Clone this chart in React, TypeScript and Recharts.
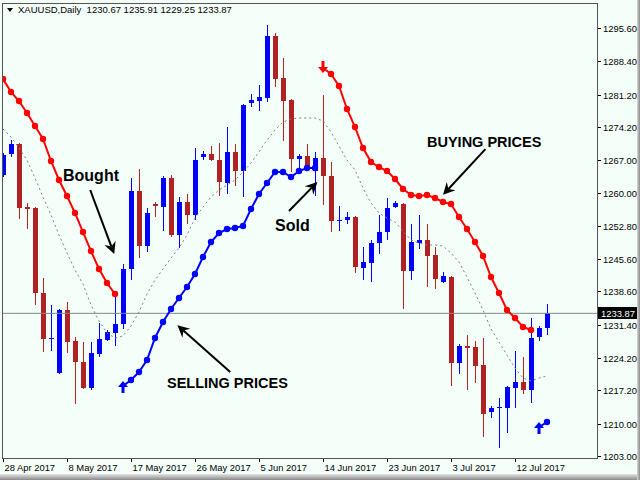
import React from 'react';
import { ComposedChart, Bar, Line, XAxis, YAxis, ReferenceLine, ReferenceDot } from 'recharts';

const BG = '#F5FFFA';
const BULL = '#0000FF';
const BEAR = '#B22222';
const BUY_COLOR = '#FF0000';
const SELL_COLOR = '#0000FF';
const FONT = '"Liberation Sans", Arial, sans-serif';
const N = null;

// x axis: bar index -> date label
const tickIdx = [0, 8, 16, 24, 32, 40, 48, 56, 64];
const tickLabels = [
  '28 Apr 2017', '8 May 2017', '17 May 2017', '26 May 2017', '5 Jun 2017',
  '14 Jun 2017', '23 Jun 2017', '3 Jul 2017', '12 Jul 2017',
];
const priceTicks = [
  1295.6, 1288.4, 1281.2, 1274.2, 1267.0, 1260.0, 1252.8,
  1245.6, 1238.6, 1231.4, 1224.2, 1217.2, 1210.0, 1203.0,
];

// XAUUSD daily candles
const opens = [
  1263.80, 1268.34, 1270.50, 1256.87, 1256.66, 1238.27, 1228.40, 1220.96, 1234.59, 1227.88,
  1223.34, 1217.71, 1225.07, 1228.10, 1229.61, 1231.56, 1243.46, 1260.34, 1248.44, 1257.52,
  1256.87, 1263.15, 1250.82, 1257.96, 1255.14, 1267.69, 1268.34, 1267.04, 1262.07, 1268.77,
  1264.66, 1279.38, 1279.81, 1280.46, 1293.87, 1284.78, 1280.02, 1267.26, 1267.91, 1264.66,
  1267.48, 1263.58, 1253.84, 1254.06, 1254.71, 1243.67, 1244.75, 1249.08, 1251.46, 1256.87,
  1257.52, 1243.03, 1249.08, 1249.73, 1246.49, 1240.65, 1241.73, 1223.12, 1226.80, 1226.58,
  1222.69, 1212.52, 1213.39, 1213.39, 1217.71, 1219.01, 1217.28, 1228.75, 1230.67,
];
const highs = [
  1268.56, 1271.37, 1270.72, 1257.74, 1256.87, 1241.51, 1235.67, 1234.80, 1236.32, 1228.75,
  1227.67, 1227.67, 1231.78, 1230.26, 1237.40, 1244.54, 1263.15, 1265.10, 1256.66, 1257.96,
  1263.58, 1263.80, 1259.04, 1259.69, 1269.64, 1268.99, 1270.07, 1270.72, 1274.18, 1270.50,
  1279.16, 1281.32, 1283.27, 1296.25, 1294.52, 1289.11, 1280.24, 1268.34, 1270.50, 1268.77,
  1281.11, 1266.61, 1257.09, 1255.79, 1254.90, 1248.22, 1249.73, 1255.14, 1258.82, 1258.17,
  1257.70, 1253.20, 1255.14, 1253.20, 1248.22, 1242.81, 1241.94, 1227.23, 1229.18, 1227.88,
  1228.53, 1213.82, 1215.55, 1218.15, 1225.72, 1224.42, 1232.86, 1231.13, 1235.91,
];
const lows = [
  1263.36, 1267.69, 1254.28, 1252.11, 1235.67, 1225.50, 1225.72, 1220.74, 1225.29, 1214.25,
  1217.50, 1217.28, 1224.42, 1227.88, 1226.80, 1230.48, 1241.08, 1245.84, 1247.14, 1254.71,
  1251.68, 1250.38, 1248.00, 1253.20, 1254.06, 1267.04, 1266.80, 1259.25, 1259.69, 1261.42,
  1259.04, 1278.51, 1277.64, 1279.59, 1282.84, 1271.15, 1264.45, 1265.10, 1264.66, 1259.25,
  1257.31, 1251.46, 1251.68, 1253.20, 1242.59, 1241.08, 1240.65, 1246.70, 1249.73, 1256.66,
  1234.80, 1241.08, 1247.79, 1239.56, 1239.13, 1240.50, 1218.15, 1220.74, 1217.28, 1218.79,
  1207.11, 1211.22, 1204.73, 1207.98, 1213.39, 1216.41, 1214.47, 1227.88, 1229.25,
];
const closes = [
  1268.12, 1270.50, 1256.66, 1256.44, 1238.27, 1228.31, 1228.53, 1234.59, 1227.67, 1223.34,
  1217.71, 1225.29, 1228.31, 1229.83, 1231.56, 1243.46, 1260.34, 1248.44, 1255.58, 1257.09,
  1263.15, 1250.82, 1257.96, 1255.14, 1267.04, 1268.34, 1267.04, 1262.28, 1268.77, 1264.66,
  1278.94, 1280.02, 1280.67, 1293.87, 1284.57, 1279.81, 1267.26, 1267.91, 1265.10, 1267.48,
  1263.58, 1253.84, 1254.06, 1254.71, 1243.89, 1244.97, 1249.08, 1251.46, 1256.66, 1257.74,
  1243.03, 1249.30, 1249.73, 1246.27, 1241.30, 1241.94, 1223.12, 1226.80, 1226.37, 1222.47,
  1212.09, 1213.39, 1213.60, 1217.93, 1219.01, 1217.28, 1228.53, 1230.69, 1233.87,
];

// indicator lines
const buying = [
  1284.57, 1281.76, 1279.81, 1277.21, 1274.40, 1271.59, 1266.83, 1262.72, 1259.25, 1255.58,
  1251.46, 1247.35, 1243.46, 1240.43, 1238.05, N, N, N, N, N,
  N, N, N, N, N, N, N, N, N, N,
  N, N, N, N, N, N, N, N, N, N,
  1286.95, 1285.65, 1283.05, 1278.08, 1274.18, 1269.64, 1266.61, 1265.53, 1264.66, 1262.93,
  1260.77, 1259.47, 1259.25, 1259.47, 1258.82, 1257.96, 1257.52, 1254.71, 1252.11, 1249.30,
  1246.27, 1241.73, 1238.27, 1234.59, 1232.86, 1230.91, 1230.26, N, N,
];
const selling = [
  N, N, N, N, N, N, N, N, N, N,
  N, N, N, N, N, 1218.15, 1219.44, 1221.17, 1223.77, 1228.53,
  1231.99, 1234.80, 1237.19, 1239.56, 1242.38, 1246.06, 1249.30, 1251.25, 1252.11, 1252.33,
  1252.76, 1256.44, 1259.69, 1262.07, 1264.45, 1264.45, 1263.36, 1264.66, 1265.31, 1265.31,
  N, N, N, N, N, N, N, N, N, N,
  N, N, N, N, N, N, N, N, N, N,
  N, N, N, N, N, N, N, 1209.27, 1210.36,
];
const movingAvg = [
  1273.75, 1272.02, 1269.64, 1267.04, 1263.15, 1259.04, 1255.14, 1250.82, 1246.92, 1243.24,
  1240.21, 1235.67, 1232.21, 1229.61, 1228.53, 1228.96, 1231.13, 1234.16, 1238.05, 1241.08,
  1243.46, 1245.84, 1248.00, 1250.82, 1254.49, 1256.87, 1259.04, 1260.55, 1261.63, 1262.72,
  1264.45, 1266.39, 1268.77, 1271.37, 1273.53, 1275.26, 1275.91, 1276.13, 1276.13, 1276.13,
  1275.48, 1273.10, 1270.07, 1267.04, 1264.88, 1260.98, 1257.74, 1255.58, 1254.49, 1253.63,
  1251.68, 1249.73, 1249.08, 1248.65, 1248.65, 1248.44, 1246.92, 1244.97, 1241.73, 1238.27,
  1234.59, 1230.48, 1227.67, 1224.85, 1222.04, 1219.88, 1219.23, 1219.88, 1220.31,
];
const buyArrows = [40];
const sellArrows = [15, 67];

// text callouts, anchored in (bar index, price)
const callouts = [
  { text: 'Bought', size: 16, at: [7.5, 1262.5], from: [10.9, 1260.55], to: [13.9, 1246.7] },
  { text: 'Sold', size: 16, at: [34, 1251.68], from: [35.75, 1256.0], to: [39.3, 1262.3] },
  { text: 'BUYING PRICES', size: 14.5, at: [53, 1269.86], from: [60.3, 1269.4], to: [55.0, 1259.5] },
  { text: 'SELLING PRICES', size: 14.5, at: [20.5, 1217.71], from: [28.4, 1221.2], to: [21.8, 1231.3] },
];

const lastClose = closes[closes.length - 1];

const rows = opens.map((o, i) => ({
  i,
  o,
  h: highs[i],
  l: lows[i],
  c: closes[i],
  range: [lows[i], highs[i]],
  buy: buying[i],
  sell: selling[i],
  ma: movingAvg[i],
}));

function Candle(props: any) {
  const { x, y, width, height, payload } = props;
  if (!payload || y == null || height == null) return null;
  const top = Math.min(y, y + height);
  const span = Math.abs(height);
  const { o, h, l, c } = payload;
  const k = span / (h - l);
  const yo = top + (h - o) * k;
  const yc = top + (h - c) * k;
  const col = c >= o ? BULL : BEAR;
  const cx = Math.round(x + width / 2);
  const bTop = Math.round(Math.min(yo, yc));
  const bBot = Math.round(Math.max(yo, yc));
  return (
    <g>
      <rect x={cx} y={Math.round(top)} width={1} height={Math.max(Math.round(span), 1)} fill={col} />
      <rect x={cx - 2} y={bTop} width={5} height={Math.max(bBot - bTop, 1)} fill={col} />
    </g>
  );
}

function arrowGlyph(cx: number, cy: number, up: boolean, color: string, key: string) {
  const d = up ? -1 : 1;
  const pts = [
    [cx, cy + 5 * d],
    [cx + 5, cy - 1 * d],
    [cx + 1.5, cy - 1 * d],
    [cx + 1.5, cy - 7 * d],
    [cx - 1.5, cy - 7 * d],
    [cx - 1.5, cy - 1 * d],
    [cx - 5, cy - 1 * d],
  ];
  return <polygon key={key} points={pts.map((p) => p.join(',')).join(' ')} fill={color} />;
}

const makeDot = (color: string, starts: number[], up: boolean) => (p: any) => {
  const key = `d${p.index}`;
  if (p.cy == null || p.value == null) return <g key={key} />;
  if (starts.includes(p.payload.i)) return arrowGlyph(p.cx, p.cy, up, color, key);
  return <circle key={key} cx={p.cx} cy={p.cy} r={3.2} fill={color} />;
};

function Pointer(p: any) {
  const { x1, y1, x2, y2 } = p;
  const a = Math.atan2(y2 - y1, x2 - x1);
  const ux = Math.cos(a);
  const uy = Math.sin(a);
  const nx = -uy;
  const ny = ux;
  const L = 12;
  const W = 6;
  const bx = x2 - L * ux;
  const by = y2 - L * uy;
  const mx = x2 - 8 * ux;
  const my = y2 - 8 * uy;
  const head = [
    [x2, y2],
    [bx + W * nx, by + W * ny],
    [mx, my],
    [bx - W * nx, by - W * ny],
  ];
  return (
    <g>
      <line x1={x1} y1={y1} x2={mx} y2={my} stroke="#000" strokeWidth={2} />
      <polygon points={head.map((q) => q.join(',')).join(' ')} fill="#000" />
    </g>
  );
}

function PriceTick(p: any) {
  const { x, y, payload } = p;
  const v = payload.value;
  const yy = Math.round(y) + 0.5;
  if (v === lastClose) {
    return (
      <g>
        <rect x={x + 1} y={yy - 6.5} width={42} height={12} fill="#000" />
        <text x={x + 4} y={yy + 3.5} fill="#fff" fontSize={9.4} fontFamily={FONT}>{v.toFixed(2)}</text>
      </g>
    );
  }
  return (
    <g>
      <line x1={x} x2={x + 4} y1={yy} y2={yy} stroke="#000" />
      <text x={x + 6} y={yy + 3.5} fill="#000" fontSize={9.4} fontFamily={FONT}>{v.toFixed(2)}</text>
    </g>
  );
}

function DateTick(p: any) {
  const { x, y, payload } = p;
  const k = tickIdx.indexOf(payload.value);
  const xx = Math.round(x) + 0.5;
  return (
    <g>
      <line x1={xx} x2={xx} y1={y} y2={y + 4} stroke="#000" />
      <text x={xx + 1} y={y + 13} fill="#000" fontSize={9.4} fontFamily={FONT}>{tickLabels[k]}</text>
    </g>
  );
}

export default function App() {
  return (
    <div style={{ position: 'absolute', left: 0, top: 0, width: 640, height: 480, background: BG, overflow: 'hidden' }}>
      <ComposedChart
        width={640}
        height={480}
        data={rows}
        margin={{ top: 3, right: 0, left: 3, bottom: 0 }}
      >
        <XAxis
          dataKey="i"
          type="number"
          domain={[0, 74.25]}
          allowDataOverflow
          ticks={tickIdx}
          interval={0}
          height={22}
          axisLine={false}
          tickLine={false}
          tickSize={0}
          tickMargin={0}
          tick={<DateTick />}
        />
        <YAxis
          orientation="right"
          type="number"
          domain={[1202.57, 1301.01]}
          allowDataOverflow
          ticks={[...priceTicks, lastClose]}
          interval={0}
          width={43}
          axisLine={false}
          tickLine={false}
          tickSize={0}
          tickMargin={0}
          tick={<PriceTick />}
        />
        <ReferenceLine y={lastClose} stroke="#7f8a8a" strokeWidth={1} />
        <Line
          dataKey="ma"
          stroke="#808080"
          strokeWidth={1}
          strokeDasharray="2 3"
          dot={false}
          isAnimationActive={false}
        />
        <Bar dataKey="range" barSize={5} shape={<Candle />} isAnimationActive={false} />
        <Line
          dataKey="buy"
          stroke={BUY_COLOR}
          strokeWidth={2}
          dot={makeDot(BUY_COLOR, buyArrows, false)}
          activeDot={false}
          isAnimationActive={false}
        />
        <Line
          dataKey="sell"
          stroke={SELL_COLOR}
          strokeWidth={2}
          dot={makeDot(SELL_COLOR, sellArrows, true)}
          activeDot={false}
          isAnimationActive={false}
        />
        {callouts.map((c) => (
          <ReferenceLine
            key={`p-${c.text}`}
            segment={[{ x: c.from[0], y: c.from[1] }, { x: c.to[0], y: c.to[1] }]}
            shape={(p: any) => <Pointer {...p} />}
          />
        ))}
        {callouts.map((c) => (
          <ReferenceDot
            key={`t-${c.text}`}
            x={c.at[0]}
            y={c.at[1]}
            r={0}
            shape={(p: any) => (
              <text x={p.cx} y={p.cy} fontFamily={FONT} fontWeight="bold" fontSize={c.size} fill="#000">
                {c.text}
              </text>
            )}
          />
        ))}
      </ComposedChart>

      {/* plot frame */}
      <div style={{ position: 'absolute', left: 2, top: 3, width: 594, height: 454, border: '1px solid #555', pointerEvents: 'none' }} />

      {/* symbol header */}
      <div style={{ position: 'absolute', left: 7, top: 4, display: 'flex', alignItems: 'center', fontFamily: FONT, fontSize: 9.5, color: '#000', whiteSpace: 'pre' }}>
        <svg width={6} height={4} style={{ marginRight: 5 }}>
          <polygon points="0,0 6,0 3,4" fill="#000" />
        </svg>
        <span>{'XAUUSD,Daily  ' + [opens[68], highs[68], lows[68], closes[68]].map((v) => v.toFixed(2)).join(' ')}</span>
      </div>

      {/* window frame */}
      <div style={{ position: 'absolute', left: 0, top: 474, width: 640, height: 6, background: 'linear-gradient(#e4e4e4, #8a8a8a)' }} />
      <div style={{ position: 'absolute', left: 637, top: 0, width: 3, height: 480, background: 'linear-gradient(90deg, #d8d8d8, #8a8a8a)' }} />
    </div>
  );
}
